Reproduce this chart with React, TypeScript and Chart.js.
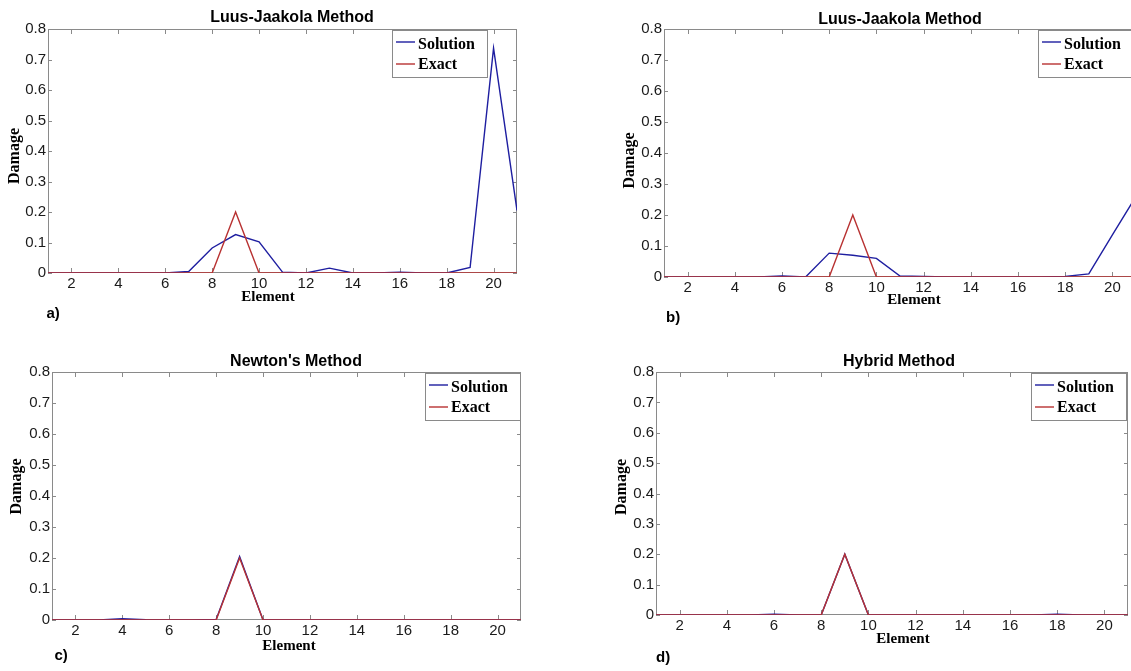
import React, { useEffect, useRef } from "react";
import { Chart, registerables } from "chart.js";

Chart.register(...registerables);

// ---------- data ----------
const elements = [1, 2, 3, 4, 5, 6, 7, 8, 9, 10, 11, 12, 13, 14, 15, 16, 17, 18, 19, 20, 21];
const exactDamage = [0, 0, 0, 0, 0, 0, 0, 0, 0.2, 0, 0, 0, 0, 0, 0, 0, 0, 0, 0, 0, 0];
const solutionLJa = [0, 0, 0, 0, 0, 0, 0.005, 0.082, 0.126, 0.102, 0.003, 0, 0.016, 0, 0, 0.003, 0, 0, 0.018, 0.737, 0.205];
const solutionLJb = [0, 0, 0, 0, 0, 0.003, 0, 0.077, 0.07, 0.06, 0.003, 0.002, 0, 0, 0, 0, 0, 0.002, 0.01, 0.136, 0.26];
const solutionNewton = [0, 0, 0, 0.004, 0.001, 0, 0, 0.002, 0.205, 0, 0, 0, 0, 0, 0, 0, 0, 0, 0, 0, 0];
const solutionHybrid = [0, 0, 0, 0, 0, 0.003, 0, 0, 0.2, 0, 0, 0, 0, 0, 0, 0, 0, 0.003, 0, 0, 0];
const xTickValues = [2, 4, 6, 8, 10, 12, 14, 16, 18, 20];
const yTickValues = [0, 0.1, 0.2, 0.3, 0.4, 0.5, 0.6, 0.7, 0.8];
const seriesLabels = ["Solution", "Exact"];
const panelTitles = ["Luus-Jaakola Method", "Luus-Jaakola Method", "Newton's Method", "Hybrid Method"];
const panelTags = ["a)", "b)", "c)", "d)"];
const xAxisTitle = "Element";
const yAxisTitle = "Damage";
const solutions = [solutionLJa, solutionLJb, solutionNewton, solutionHybrid];

// ---------- styles / layout ----------
const BLUE = "#1e1ea0";
const RED = "#b83232";
const BOX = "#8a8a8a";
const SANS = "'Liberation Sans', Arial, sans-serif";
const SERIF = "'Liberation Serif', 'Times New Roman', serif";

type Layout = {
  cx: number; cy: number; cw: number; ch: number;
  L: number; R: number; T: number; B: number;
  titleX: number; titleY: number;
  xlabX: number; xlabY: number;
  ylabX: number; ylabY: number;
  tagX: number; tagY: number;
  legX: number; legY: number;
};

const layouts: Layout[] = [
  { cx: 0, cy: 0, cw: 560, ch: 336, L: 48, R: 517, T: 29, B: 273, titleX: 292, titleY: 22, xlabX: 268, xlabY: 301, ylabX: 19, ylabY: 156, tagX: 46.5, tagY: 318, legX: 392, legY: 30 },
  { cx: 560, cy: 0, cw: 600, ch: 336, L: 664, R: 1136, T: 29, B: 277, titleX: 900, titleY: 24, xlabX: 914, xlabY: 304, ylabX: 633.5, ylabY: 160.5, tagX: 666, tagY: 322, legX: 1038, legY: 30 },
  { cx: 0, cy: 336, cw: 560, ch: 335, L: 52, R: 521, T: 372, B: 620, titleX: 296, titleY: 366, xlabX: 289, xlabY: 650, ylabX: 20.5, ylabY: 486.5, tagX: 54.5, tagY: 660, legX: 425, legY: 373 },
  { cx: 560, cy: 336, cw: 571, ch: 335, L: 656, R: 1128, T: 372, B: 615, titleX: 899, titleY: 366, xlabX: 903, xlabY: 643, ylabX: 625.5, ylabY: 487, tagX: 656, tagY: 662, legX: 1031, legY: 373 },
];

function makeDecor(idx: number) {
  const lay = layouts[idx];
  return {
    id: "decor" + idx,
    beforeDatasetsDraw(chart: any) {
      const ctx = chart.ctx;
      const { left, right, top, bottom } = chart.chartArea;
      const xs = chart.scales.x;
      const ys = chart.scales.y;
      ctx.save();
      ctx.strokeStyle = BOX;
      ctx.lineWidth = 1;
      ctx.strokeRect(Math.round(left) + 0.5, Math.round(top) + 0.5, Math.round(right - left) - 1, Math.round(bottom - top) - 1);
      ctx.beginPath();
      const tl = 5;
      xTickValues.forEach((v) => {
        const px = Math.round(xs.getPixelForValue(v)) + 0.5;
        ctx.moveTo(px, bottom);
        ctx.lineTo(px, bottom - tl);
        ctx.moveTo(px, top);
        ctx.lineTo(px, top + tl);
      });
      yTickValues.forEach((v) => {
        const py = Math.round(ys.getPixelForValue(v)) + 0.5;
        ctx.moveTo(left, py);
        ctx.lineTo(left + 4, py);
        ctx.moveTo(right, py);
        ctx.lineTo(right - 4, py);
      });
      ctx.stroke();
      ctx.restore();
    },
    afterDraw(chart: any) {
      const ctx = chart.ctx;
      const ox = lay.cx;
      const oy = lay.cy;
      ctx.save();
      // title
      ctx.fillStyle = "#000";
      ctx.font = `bold 16px ${SANS}`;
      ctx.textAlign = "center";
      ctx.textBaseline = "alphabetic";
      ctx.fillText(panelTitles[idx], lay.titleX - ox, lay.titleY - oy);
      // x axis title
      ctx.font = `bold 15px ${SERIF}`;
      ctx.fillText(xAxisTitle, lay.xlabX - ox, lay.xlabY - oy);
      // y axis title
      ctx.save();
      ctx.translate(lay.ylabX - ox, lay.ylabY - oy);
      ctx.rotate(-Math.PI / 2);
      ctx.font = `bold 16px ${SERIF}`;
      ctx.fillText(yAxisTitle, 0, 0);
      ctx.restore();
      // panel tag
      ctx.font = `bold 15px ${SANS}`;
      ctx.textAlign = "left";
      ctx.fillText(panelTags[idx], lay.tagX - ox, lay.tagY - oy);
      // legend
      const lx = lay.legX - ox;
      const ly = lay.legY - oy;
      const lw = 95;
      const lh = 47;
      ctx.fillStyle = "#fff";
      ctx.fillRect(lx, ly, lw, lh);
      ctx.strokeStyle = BOX;
      ctx.lineWidth = 1;
      ctx.strokeRect(Math.round(lx) + 0.5, Math.round(ly) + 0.5, lw, lh);
      const colors = [BLUE, RED];
      const lineYs = [12, 34];
      const textYs = [18.5, 38.5];
      seriesLabels.forEach((lab, i) => {
        ctx.strokeStyle = colors[i];
        ctx.lineWidth = 1.4;
        ctx.beginPath();
        ctx.moveTo(lx + 4, ly + lineYs[i]);
        ctx.lineTo(lx + 23, ly + lineYs[i]);
        ctx.stroke();
        ctx.fillStyle = "#000";
        ctx.font = `bold 16px ${SERIF}`;
        ctx.textAlign = "left";
        ctx.fillText(lab, lx + 26, ly + textYs[i]);
      });
      ctx.restore();
    },
  };
}

function Panel({ idx }: { idx: number }) {
  const ref = useRef<HTMLCanvasElement | null>(null);
  const lay = layouts[idx];
  useEffect(() => {
    if (!ref.current) return;
    const sol = solutions[idx];
    const chart = new Chart(ref.current, {
      type: "line",
      data: {
        datasets: [
          {
            label: seriesLabels[1],
            data: elements.map((x, i) => ({ x, y: exactDamage[i] })),
            borderColor: RED,
            borderWidth: 1.4,
            pointRadius: 0,
            tension: 0,
            fill: false,
            order: 0,
          },
          {
            label: seriesLabels[0],
            data: elements.map((x, i) => ({ x, y: sol[i] })),
            borderColor: BLUE,
            borderWidth: 1.4,
            pointRadius: 0,
            tension: 0,
            fill: false,
            order: 1,
          },
        ],
      },
      options: {
        responsive: false,
        animation: false,
        events: [],
        layout: {
          padding: { left: 0, top: lay.T - lay.cy, right: lay.cx + lay.cw - lay.R, bottom: 0 },
        },
        plugins: {
          legend: { display: false },
          title: { display: false },
          tooltip: { enabled: false },
        },
        scales: {
          x: {
            type: "linear",
            min: 1,
            max: 21,
            afterBuildTicks: (s: any) => {
              s.ticks = xTickValues.map((v) => ({ value: v }));
            },
            afterFit: (s: any) => {
              s.height = lay.cy + lay.ch - lay.B;
            },
            grid: { display: false, drawTicks: false },
            border: { display: false },
            ticks: {
              font: { family: SANS, size: 15 },
              color: "#1a1a1a",
              padding: 2,
              maxRotation: 0,
              autoSkip: false,
              callback: (v: any) => String(v),
            },
          },
          y: {
            type: "linear",
            min: 0,
            max: 0.8,
            afterBuildTicks: (s: any) => {
              s.ticks = yTickValues.map((v) => ({ value: v }));
            },
            afterFit: (s: any) => {
              s.width = lay.L - lay.cx;
            },
            grid: { display: false, drawTicks: false },
            border: { display: false },
            ticks: {
              font: { family: SANS, size: 15 },
              color: "#1a1a1a",
              padding: 2,
              autoSkip: false,
              callback: (v: any) => (Number(v) === 0 ? "0" : Number(v).toFixed(1)),
            },
          },
        },
      } as any,
      plugins: [makeDecor(idx)],
    });
    return () => chart.destroy();
  }, [idx]);
  return (
    <canvas
      ref={ref}
      width={lay.cw}
      height={lay.ch}
      style={{ position: "absolute", left: lay.cx, top: lay.cy, width: lay.cw, height: lay.ch }}
    />
  );
}

export default function App() {
  return (
    <div
      style={{
        position: "fixed",
        left: 0,
        top: 0,
        width: 1131,
        height: 671,
        overflow: "hidden",
        background: "#fff",
      }}
    >
      {layouts.map((_, i) => (
        <Panel key={i} idx={i} />
      ))}
    </div>
  );
}
